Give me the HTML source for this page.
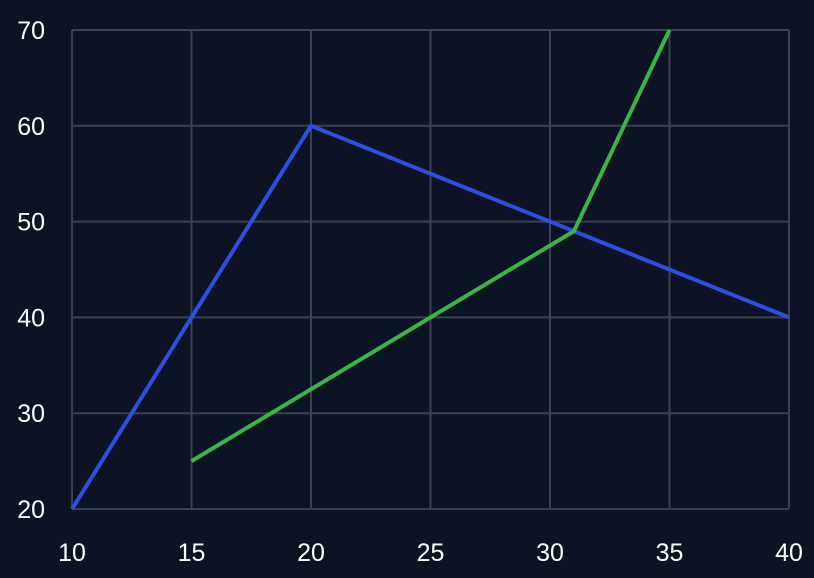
<!DOCTYPE html>
<html><head><meta charset="utf-8"><style>
html,body{margin:0;padding:0;background:#0b1324;}
svg{display:block;font-family:"Liberation Sans",sans-serif;}
</style></head><body>
<svg id="chart" width="814" height="578" viewBox="0 0 814 578">
<rect width="814" height="578" fill="#0b1324"/>
<g id="grid"></g><g id="series"></g><g id="labels"></g>
</svg>
<script>
const xTicks=[10,15,20,25,30,35,40];
const yTicks=[20,30,40,50,60,70];
const blueX=[10,15,20,40];
const blueY=[20,40,60,40];
const greenX=[15,31,35];
const greenY=[25,49,70];
const L=72,R=789,T=30,B=509;
const sx=v=>L+(v-10)/30*(R-L);
const sy=v=>B-(v-20)/50*(B-T);
const NS="http://www.w3.org/2000/svg";
const grid=document.getElementById('grid'),ser=document.getElementById('series'),lab=document.getElementById('labels');
function mk(t,a,p){const e=document.createElementNS(NS,t);for(const k in a)e.setAttribute(k,a[k]);p.appendChild(e);return e;}
xTicks.forEach(v=>{
const l=mk('line',{x1:sx(v),x2:sx(v),y1:T,y2:B,stroke:'#3b4352','stroke-width':2},grid);


const t=mk('text',{x:sx(v),y:561,fill:'#ffffff','font-size':25,'text-anchor':'middle'},lab);t.textContent=v;


});
yTicks.forEach(v=>{
const l=mk('line',{x1:L,x2:R,y1:sy(v),y2:sy(v),stroke:'#3b4352','stroke-width':2},grid);


const t=mk('text',{x:45,y:sy(v)+9,fill:'#ffffff','font-size':25,'text-anchor':'end'},lab);t.textContent=v;


});
function line(xs,ys,c,n){
const p=mk('polyline',{points:xs.map((x,i)=>sx(x)+','+sy(ys[i])).join(' '),fill:'none',stroke:c,'stroke-width':4,'stroke-linejoin':'miter'},ser);


}
line(blueX,blueY,'#2f4fe0','blue-series-line');
line(greenX,greenY,'#3bb54a','green-series-line');
</script>
</body></html>
